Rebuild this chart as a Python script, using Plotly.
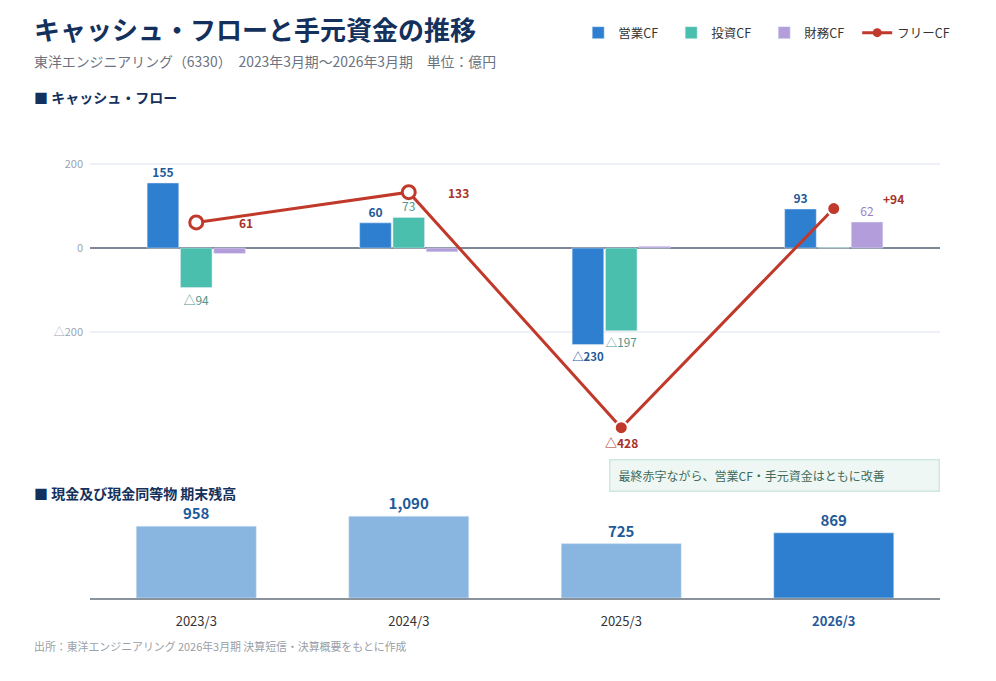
import plotly.graph_objects as go

# データ（億円）
years = ["2023/3", "2024/3", "2025/3", "2026/3"]
operating_cf = [155, 60, -230, 93]
investing_cf = [-94, 73, -197, 1]
financing_cf = [-13, -9, 4, 62]
free_cf = [61, 133, -428, 94]
free_cf_labels = ["61", "133", "△428", "+94"]
cash_balance = [958, 1090, 725, 869]
y_ticks = [-200, 0, 200]

FONT = "Noto Sans CJK JP"
NAVY = "#13315c"
BLUE = "#2e7fd0"
TEAL = "#4bbfad"
LAVENDER = "#b39ddb"
RED = "#c0392b"
W, H = 996, 681
OFF = 8          # ページ余白の分
L, R = 90 - OFF, 56 + OFF


def tri(v):
    # マイナスは△表記
    return "△" + str(abs(v)) if v < 0 else str(v)


def py(px):
    # 画面上のピクセル位置(上から) -> paper座標
    return 1 - (px - OFF) / H


def px_(px):
    return (px - OFF - L) / (W - L - R)


fig = go.Figure()

# キャッシュ・フロー（棒）
fig.add_trace(go.Bar(
    x=years, y=operating_cf, name="営業CF", marker_color=BLUE,
    text=["<b>" + tri(v) + "</b>" for v in operating_cf], textposition="outside",
    textfont=dict(size=12, color="#1f5a9a"), cliponaxis=False,
    xaxis="x", yaxis="y"))
fig.add_trace(go.Bar(
    x=years, y=investing_cf, name="投資CF", marker_color=TEAL,
    text=[tri(v) if abs(v) > 20 else "" for v in investing_cf], textposition="outside",
    textfont=dict(size=12, color="#4f968c"), cliponaxis=False,
    xaxis="x", yaxis="y"))
fig.add_trace(go.Bar(
    x=years, y=financing_cf, name="財務CF", marker_color=LAVENDER,
    text=[tri(v) if abs(v) > 20 else "" for v in financing_cf], textposition="outside",
    textfont=dict(size=12, color="#9a7fc9"), cliponaxis=False,
    xaxis="x", yaxis="y"))

# フリーCF（折れ線）
fig.add_trace(go.Scatter(
    x=years, y=free_cf, mode="lines+markers", showlegend=False,
    line=dict(color=RED, width=3),
    marker=dict(size=13, color=["white", "white", RED, RED],
                line=dict(color=[RED, RED, "white", "white"], width=[3, 3, 2, 2])),
    cliponaxis=False, xaxis="x", yaxis="y"))
# 凡例用
fig.add_trace(go.Scatter(
    x=[None], y=[None], mode="lines+markers", name="フリーCF",
    line=dict(color=RED, width=3), marker=dict(size=9, color=RED),
    xaxis="x", yaxis="y"))

# 現金及び現金同等物
fig.add_trace(go.Bar(
    x=years, y=cash_balance, showlegend=False, width=0.565,
    marker_color=["#89b6e0", "#89b6e0", "#89b6e0", BLUE],
    texttemplate="<b>%{y:,}</b>", textposition="outside",
    textfont=dict(size=15, color="#1f5a9a"), cliponaxis=False,
    xaxis="x2", yaxis="y2"))

annotations = []
# フリーCFラベル
shifts = [(50, 0), (50, 0), (0, -15), (60, 10)]
for yr, v, lab, (dx, dy) in zip(years, free_cf, free_cf_labels, shifts):
    annotations.append(dict(
        x=yr, y=v, xref="x", yref="y", text="<b>" + lab + "</b>",
        showarrow=False, xshift=dx, yshift=dy,
        font=dict(size=12, color="#a93226")))

# タイトル等
annotations += [
    dict(x=px_(32), y=py(28), xref="paper", yref="paper", xanchor="left", yanchor="middle",
         text="<b>キャッシュ・フローと手元資金の推移</b>", showarrow=False,
         font=dict(size=26, color=NAVY)),
    dict(x=px_(32), y=py(61), xref="paper", yref="paper", xanchor="left", yanchor="middle",
         text="東洋エンジニアリング（6330）　2023年3月期〜2026年3月期　単位：億円",
         showarrow=False, font=dict(size=13.9, color="#6b7280")),
    dict(x=px_(32), y=py(97), xref="paper", yref="paper", xanchor="left", yanchor="middle",
         text="<b>■ キャッシュ・フロー</b>", showarrow=False,
         font=dict(size=14, color=NAVY)),
    dict(x=px_(32), y=py(493), xref="paper", yref="paper", xanchor="left", yanchor="middle",
         text="<b>■ 現金及び現金同等物 期末残高</b>", showarrow=False,
         font=dict(size=14, color=NAVY)),
    dict(x=px_(32), y=py(646), xref="paper", yref="paper", xanchor="left", yanchor="middle",
         text="出所：東洋エンジニアリング 2026年3月期 決算短信・決算概要をもとに作成",
         showarrow=False, font=dict(size=10.9, color="#9aa0a8")),
    dict(x=px_(940), y=py(475), xref="paper", yref="paper", xanchor="right", yanchor="middle",
         text="最終赤字ながら、営業CF・手元資金はともに改善", showarrow=False,
         align="left", width=312, height=14, borderpad=8,
         bgcolor="#eef7f3", bordercolor="#cfe8df", borderwidth=1.5,
         font=dict(size=12, color="#3f6b5c")),
]

ticktext2 = years[:-1] + ["<b><span style='color:#1f5a9a'>" + years[-1] + "</span></b>"]

fig.update_layout(
    width=W, height=H,
    margin=dict(l=L, r=R, t=0, b=0),
    paper_bgcolor="white", plot_bgcolor="white",
    font=dict(family=FONT, color="#333333"),
    barmode="group", bargap=0.53, bargroupgap=0.05,
    showlegend=True,
    legend=dict(orientation="h", x=1.012, xanchor="right", y=py(33), yanchor="middle",
                font=dict(size=12.5, color="#333333"), bgcolor="rgba(0,0,0,0)",
                entrywidth=48, itemwidth=30),
    xaxis=dict(domain=[0, 1], anchor="y", type="category", range=[-0.5, 3.5],
               showticklabels=False, showgrid=False, zeroline=False, showline=False),
    yaxis=dict(domain=[py(455), py(120)], range=[-493, 305],
               tickvals=y_ticks, ticktext=[tri(v) for v in y_ticks],
               tickfont=dict(size=11, color="#9aa5b1"), ticklabelstandoff=6,
               showgrid=True, gridcolor="#eef1f5", gridwidth=1.5,
               zeroline=True, zerolinecolor="#7d8796", zerolinewidth=2),
    xaxis2=dict(domain=[0, 1], anchor="y2", type="category", range=[-0.5, 3.5],
                tickvals=years, ticktext=ticktext2, ticks="",
                tickfont=dict(size=13, color="#333333"), ticklabelstandoff=10,
                showgrid=False, zeroline=False,
                showline=True, linecolor="#8a929c", linewidth=2),
    yaxis2=dict(domain=[py(598), py(493)], range=[0, 1400], visible=False),
    annotations=annotations,
)

fig.write_html("out.html")
